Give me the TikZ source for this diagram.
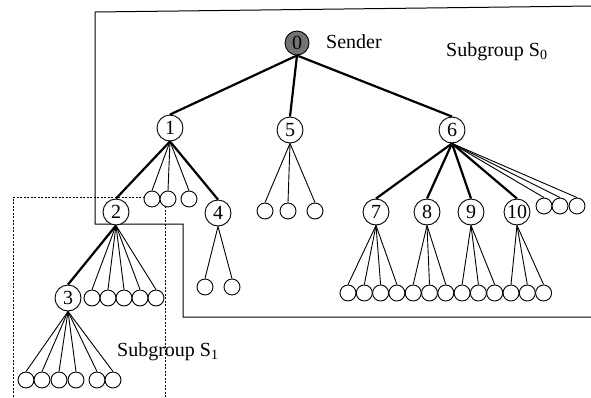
\documentclass[tikz,border=0pt]{standalone}
\usepackage{fontspec}
\setmainfont{Liberation Serif}
\begin{document}
\begin{tikzpicture}[x=1pt,y=-1pt,
  member/.style={circle,draw,line width=0.9pt,fill=white,minimum size=26pt,inner sep=0pt,
    font=\fontsize{20}{20}\selectfont},
  sendernode/.style={member,fill=black!55,minimum size=24pt},
  leaf/.style={circle,draw,line width=0.9pt,fill=white,minimum size=16pt,inner sep=0pt},
  branch/.style={line width=2.2pt},
  twig/.style={line width=0.9pt},
  caption/.style={anchor=west,inner sep=0pt,font=\fontsize{20}{22}\selectfont},
  groupzero/.style={line width=1pt},
  groupone/.style={line width=1pt,dash pattern=on 2pt off 1.5pt}]
\useasboundingbox (0,0) rectangle (591,397);

% subgroup boundaries
\draw[groupzero] (592,6) -- (95,12) -- (95,224) -- (183,224) -- (183,317) -- (592,317);
\draw[groupone] (13,400) -- (13,197) -- (165,197) -- (165,400);

% numbered members
\node[sendernode] (n0) at (297,43) {0};
\node[member] (n1) at (170,128) {1};
\node[member] (n5) at (290,130) {5};
\node[member] (n6) at (452,130) {6};
\node[member] (n2) at (116,212) {2};
\node[member] (n4) at (218,213) {4};
\node[member] (n3) at (68,298) {3};
\node[member] (n7) at (376,212) {7};
\node[member] (n8) at (427,212) {8};
\node[member] (n9) at (471,212) {9};
\node[member] (n10) at (517,212) {10};

% leaf receivers
\node[leaf] (a1) at (152,199) {};
\node[leaf] (a2) at (168,199) {};
\node[leaf] (a3) at (189,199) {};
\node[leaf] (c1) at (265,211) {};
\node[leaf] (c2) at (288,211) {};
\node[leaf] (c3) at (315,211) {};
\node[leaf] (e1) at (544,206) {};
\node[leaf] (e2) at (560,206) {};
\node[leaf] (e3) at (577,206) {};
\foreach \x [count=\i] in {92,108,124,140,156}
  \node[leaf] (f\i) at (\x,298) {};
\node[leaf] (g1) at (205,287) {};
\node[leaf] (g2) at (232,287) {};
\foreach \x [count=\i] in {26,42,59,76,97,113}
  \node[leaf] (h\i) at (\x,380) {};
\foreach \i in {1,...,13}
  \node[leaf] (b\i) at ({348+16.3*(\i-1)},293) {};

% labels
\node[caption] (snd) at (326,42) {Sender};
\node[caption] (sg0) at (446,52) {Subgroup S\textsubscript{0}};
\node[caption] (sg1) at (117,352) {Subgroup S\textsubscript{1}};

% tree edges
\foreach \c in {n1,n5,n6} \draw[branch] (n0.south) -- (\c.north);
\foreach \c in {n2,n4} \draw[branch] (n1.south) -- (\c.north);
\foreach \c in {a1,a2,a3} \draw[twig] (n1.south) -- (\c.north);
\foreach \c in {c1,c2,c3} \draw[twig] (n5.south) -- (\c.north);
\foreach \c in {n7,n8,n9,n10} \draw[branch] (n6.south) -- (\c.north);
\foreach \c in {e1,e2,e3} \draw[twig] (n6.south) -- (\c.north);
\draw[branch] (n2.south) -- (n3.north);
\foreach \c in {f1,f2,f3,f4,f5} \draw[twig] (n2.south) -- (\c.north);
\foreach \c in {g1,g2} \draw[twig] (n4.south) -- (\c.north);
\foreach \c in {h1,h2,h3,h4,h5,h6} \draw[twig] (n3.south) -- (\c.north);
\foreach \c in {b1,b2,b3,b4} \draw[twig] (n7.south) -- (\c.north);
\foreach \c in {b5,b6,b7} \draw[twig] (n8.south) -- (\c.north);
\foreach \c in {b8,b9,b10} \draw[twig] (n9.south) -- (\c.north);
\foreach \c in {b11,b12,b13} \draw[twig] (n10.south) -- (\c.north);
\end{tikzpicture}
\end{document}
